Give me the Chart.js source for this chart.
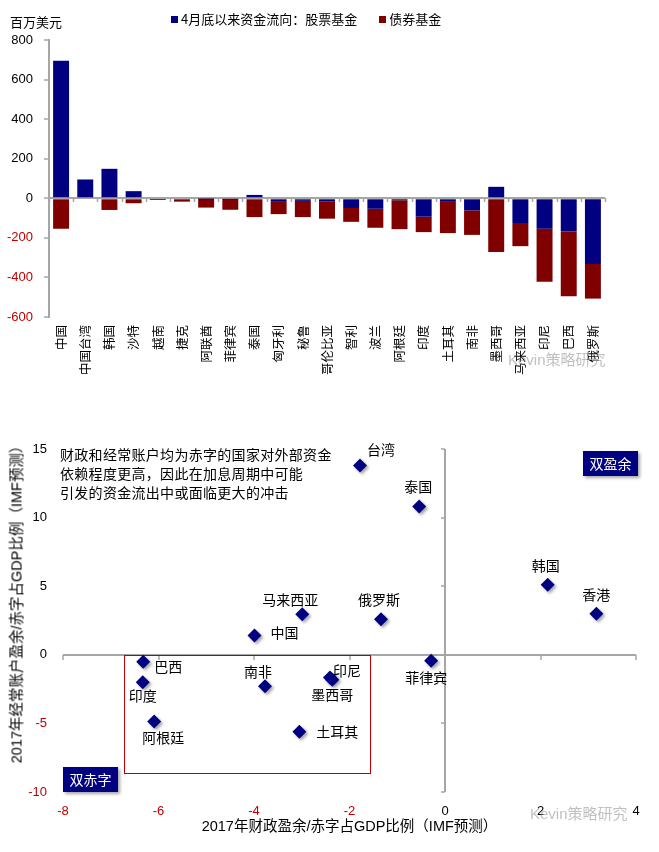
<!DOCTYPE html>
<html lang="zh">
<head>
<meta charset="utf-8">
<script src="https://cdn.jsdelivr.net/npm/chart.js@4.4.1/dist/chart.umd.min.js"></script>
<style>
    body { margin: 0; background: #fff; width: 659px; height: 852px; position: relative; overflow: hidden;
           font-family: "Liberation Sans", Arial, "Noto Sans CJK SC", sans-serif; }
    #flow-box { position: absolute; left: 0; top: 0; width: 659px; height: 385px; }
    #map-box { position: absolute; left: 0; top: 420px; width: 659px; height: 432px; }
    .txt { position: absolute; white-space: nowrap; color: #000; font-family: "Noto Sans CJK SC", sans-serif; }
    #legend { left: 171px; top: 9px; font-size: 13px; }
    #legend .sw { display: inline-block; width: 7px; height: 7px; margin-right: 3px; vertical-align: 1px; }
    #legend .item { margin-right: 22px; }
    #note { left: 60px; top: 445px; font-size: 14px; line-height: 19px; letter-spacing: 0.3px; }
    #y-title { left: 15px; top: 601px; font-size: 14.5px; font-family: "Liberation Sans", "Noto Sans CJK SC", sans-serif;
               transform: translate(-50%, -50%) rotate(-90deg); }
    .quad { position: absolute; width: 55px; height: 25px; line-height: 25px; text-align: center; color: #fff;
            background: #000080; font-size: 14px; box-shadow: 2px 2px 3px rgba(0,0,0,0.35);
            font-family: "Noto Sans CJK SC", sans-serif; }
    .mark { position: absolute; color: rgba(140,140,140,0.55); font-size: 15px; white-space: nowrap;
            font-family: "Liberation Sans", "Noto Sans CJK SC", sans-serif; }
</style>
</head>
<body>
<div id="flow-box"><canvas id="flow-chart"></canvas></div>
<div class="txt" style="left:10px; top:12px; font-size:13px;">百万美元</div>
<div class="txt" id="legend"></div>
<div class="mark" style="left:508px; top:348px;">Kevin策略研究</div>

<div id="map-box"><canvas id="map-chart"></canvas></div>
<div class="txt" id="note">财政和经常账户均为赤字的国家对外部资金<br>依赖程度更高，因此在加息周期中可能<br>引发的资金流出中或面临更大的冲击</div>
<div class="txt" id="y-title">2017年经常账户盈余/赤字占GDP比例（IMF预测）</div>
<div class="quad" style="left:583px; top:451px;">双盈余</div>
<div class="quad" style="left:63px; top:767px;">双赤字</div>
<div class="mark" style="left:530px; top:802px;">Kevin策略研究</div>

<script>
// 上图：4月底以来资金流向（百万美元）
const fundCategories = ['中国', '中国台湾', '韩国', '沙特', '越南', '捷克', '阿联酋', '菲律宾', '泰国', '匈牙利', '秘鲁', '哥伦比亚',
    '智利', '波兰', '阿根廷', '印度', '土耳其', '南非', '墨西哥', '马来西亚', '印尼', '巴西', '俄罗斯'];
const equityFlows = [695, 95, 149, 36, -4, -5, -2, -3, 17, -14, -13, -17, -49, -53, -10, -93, -14, -61, 58, -125, -154, -166, -332];
const bondFlows = [-154, 0, -59, -25, -4, -12, -45, -55, -95, -66, -82, -86, -70, -96, -146, -78, -162, -124, -271, -117, -268, -329, -175];
const flowTicks = [-600, -400, -200, 0, 200, 400, 600, 800];

// 下图：2017年财政 / 经常账户占GDP比例（IMF预测）
const countries = ['台湾', '泰国', '俄罗斯', '韩国', '香港', '马来西亚', '中国', '巴西', '印度', '阿根廷', '南非', '土耳其', '印尼', '墨西哥', '菲律宾'];
const fiscalBalance = [-1.78, -0.54, -1.34, 2.15, 3.17, -2.99, -3.99, -6.32, -6.33, -6.09, -3.77, -3.05, -2.41, -2.36, -0.29];
const currentAccount = [13.8, 10.8, 2.6, 5.1, 3.0, 2.96, 1.4, -0.5, -2.0, -4.87, -2.3, -5.6, -1.65, -1.82, -0.44];
const fiscalTicks = [-8, -6, -4, -2, 0, 2, 4];
const currentTicks = [-10, -5, 0, 5, 10, 15];
const twinDeficitBox = { xMin: -6.72, xMax: -1.58, yMin: -8.6, yMax: 0 };

const RED = '#c00000';
const GRAY = '#a6a6a6';
const CJK = '"Noto Sans CJK SC", sans-serif';
Chart.defaults.font.family = '"Liberation Sans", Arial, "Noto Sans CJK SC", sans-serif';
Chart.defaults.color = '#000';

const flowColors = ['#000080', '#800000'];

const zeroOnly = ctx => ctx.tick && ctx.tick.value === 0 ? GRAY : 'rgba(0,0,0,0)';
const signColor = ctx => ctx.tick.value < 0 ? RED : '#000';

// small tick marks along the zero line of the bar chart
const zeroLineTicks = {
    id: 'zeroLineTicks',
    afterDraw(chart) {
        const { ctx, scales: { x, y } } = chart;
        const y0 = Math.round(y.getPixelForValue(0));
        const n = fundCategories.length;
        ctx.save();
        ctx.strokeStyle = GRAY;
        ctx.lineWidth = 1.5;
        for (let i = 0; i <= n; i++) {
            const px = Math.round(x.left + i * x.width / n) + 0.5;
            ctx.beginPath();
            ctx.moveTo(px, y0);
            ctx.lineTo(px, y0 + 4);
            ctx.stroke();
        }
        ctx.restore();
    }
};

new Chart(document.getElementById('flow-chart'), {
    type: 'bar',
    data: {
        labels: fundCategories,
        datasets: [
            {
                label: '4月底以来资金流向：股票基金',
                data: equityFlows,
                backgroundColor: flowColors[0],
                barPercentage: 0.66,
                categoryPercentage: 1
            },
            {
                label: '债券基金',
                data: bondFlows,
                backgroundColor: flowColors[1],
                barPercentage: 0.66,
                categoryPercentage: 1
            }
        ]
    },
    options: {
        responsive: true,
        maintainAspectRatio: false,
        animation: false,
        layout: { padding: { top: 40, right: 54, left: 0, bottom: 0 } },
        plugins: { legend: { display: false }, tooltip: { enabled: false } },
        scales: {
            x: {
                stacked: true,
                grid: { display: false },
                border: { display: false },
                ticks: { minRotation: 90, maxRotation: 90, autoSkip: false, padding: 0, font: { size: 12.5, family: CJK } },
                afterFit: s => { s.height = 68; }
            },
            y: {
                stacked: true,
                min: flowTicks[0],
                max: flowTicks[flowTicks.length - 1],
                ticks: { stepSize: flowTicks[1] - flowTicks[0], color: signColor, font: { size: 13 }, padding: 11 },
                grid: { color: zeroOnly, lineWidth: 2, tickColor: GRAY, tickLength: 5, tickWidth: 1.5 },
                border: { color: GRAY, width: 2 },
                afterFit: s => { s.width = 49; }
            }
        }
    },
    plugins: [zeroLineTicks]
});

// legend as plain text
const legendEl = document.getElementById('legend');
['4月底以来资金流向：股票基金', '债券基金'].forEach((name, i) => {
    const item = document.createElement('span');
    item.className = 'item';
    item.innerHTML = `<span class="sw" style="background:${flowColors[i]}"></span>${name}`;
    legendEl.appendChild(item);
});

// where each country name sits relative to its marker (px)
const labelOffset = {
    '台湾': [21, -16], '泰国': [-1, -20], '俄罗斯': [-2, -19], '韩国': [-2, -19], '香港': [0, -19],
    '马来西亚': [-12, -15], '中国': [30, -3], '巴西': [25, 5], '印度': [0, 13], '阿根廷': [9, 16],
    '南非': [-7, -15], '土耳其': [38, 0], '印尼': [17, -7], '墨西哥': [0, 15], '菲律宾': [-5, 17]
};

const mapDecor = {
    id: 'mapDecor',
    beforeDatasetsDraw(chart) {
        const { ctx, scales: { x, y } } = chart;
        const x0 = Math.round(x.getPixelForValue(0));
        const y0 = Math.round(y.getPixelForValue(0));
        ctx.save();
        ctx.strokeStyle = GRAY;
        ctx.lineWidth = 1.5;
        currentTicks.forEach(v => {
            const py = Math.round(y.getPixelForValue(v));
            ctx.beginPath(); ctx.moveTo(x0 - 4, py); ctx.lineTo(x0, py); ctx.stroke();
        });
        fiscalTicks.forEach(v => {
            const px = Math.round(x.getPixelForValue(v));
            ctx.beginPath(); ctx.moveTo(px, y0); ctx.lineTo(px, y0 + 5); ctx.stroke();
        });
        // twin deficit frame
        const bx1 = Math.round(x.getPixelForValue(twinDeficitBox.xMin)) + 0.5;
        const bx2 = Math.round(x.getPixelForValue(twinDeficitBox.xMax)) + 0.5;
        const by1 = Math.round(y.getPixelForValue(twinDeficitBox.yMax)) + 0.5;
        const by2 = Math.round(y.getPixelForValue(twinDeficitBox.yMin)) + 0.5;
        ctx.strokeStyle = RED;
        ctx.lineWidth = 1;
        ctx.strokeRect(bx1, by1, bx2 - bx1, by2 - by1);
        ctx.restore();

        ctx.save();
        ctx.shadowColor = 'rgba(0,0,0,0.35)';
        ctx.shadowOffsetX = 2;
        ctx.shadowOffsetY = 2;
        ctx.shadowBlur = 3;
    },
    afterDatasetsDraw(chart) {
        const { ctx } = chart;
        ctx.restore();
        const meta = chart.getDatasetMeta(0);
        ctx.save();
        ctx.font = '14px ' + CJK;
        ctx.fillStyle = '#000';
        ctx.textAlign = 'center';
        ctx.textBaseline = 'middle';
        meta.data.forEach((pt, i) => {
            const off = labelOffset[countries[i]] || [0, -18];
            ctx.fillText(countries[i], pt.x + off[0], pt.y + off[1]);
        });
        ctx.restore();
    }
};

new Chart(document.getElementById('map-chart'), {
    type: 'scatter',
    data: {
        datasets: [{
            label: '国家',
            data: countries.map((name, i) => ({ x: fiscalBalance[i], y: currentAccount[i] })),
            pointStyle: 'rectRot',
            pointRadius: 7,
            pointHoverRadius: 7,
            borderWidth: 0,
            backgroundColor: '#000080'
        }]
    },
    options: {
        responsive: true,
        maintainAspectRatio: false,
        animation: false,
        layout: { padding: { top: 29, right: 23, left: 7, bottom: 0 } },
        plugins: { legend: { display: false }, tooltip: { enabled: false } },
        scales: {
            x: {
                min: fiscalTicks[0],
                max: fiscalTicks[fiscalTicks.length - 1],
                ticks: { stepSize: 2, color: signColor, font: { size: 13 }, padding: 12 },
                grid: { color: zeroOnly, lineWidth: 2, drawTicks: false },
                border: { display: false },
                title: {
                    display: true,
                    text: '2017年财政盈余/赤字占GDP比例（IMF预测）',
                    font: { size: 14.5 },
                    color: '#000',
                    padding: { top: 0, bottom: 16 }
                },
                afterFit: s => { s.height = 60; }
            },
            y: {
                min: currentTicks[0],
                max: currentTicks[currentTicks.length - 1],
                ticks: { stepSize: 5, color: signColor, font: { size: 13 }, padding: 16 },
                grid: { color: zeroOnly, lineWidth: 2, drawTicks: false },
                border: { display: false },
                afterFit: s => { s.width = 56; }
            }
        }
    },
    plugins: [mapDecor]
});
</script>
</body>
</html>
